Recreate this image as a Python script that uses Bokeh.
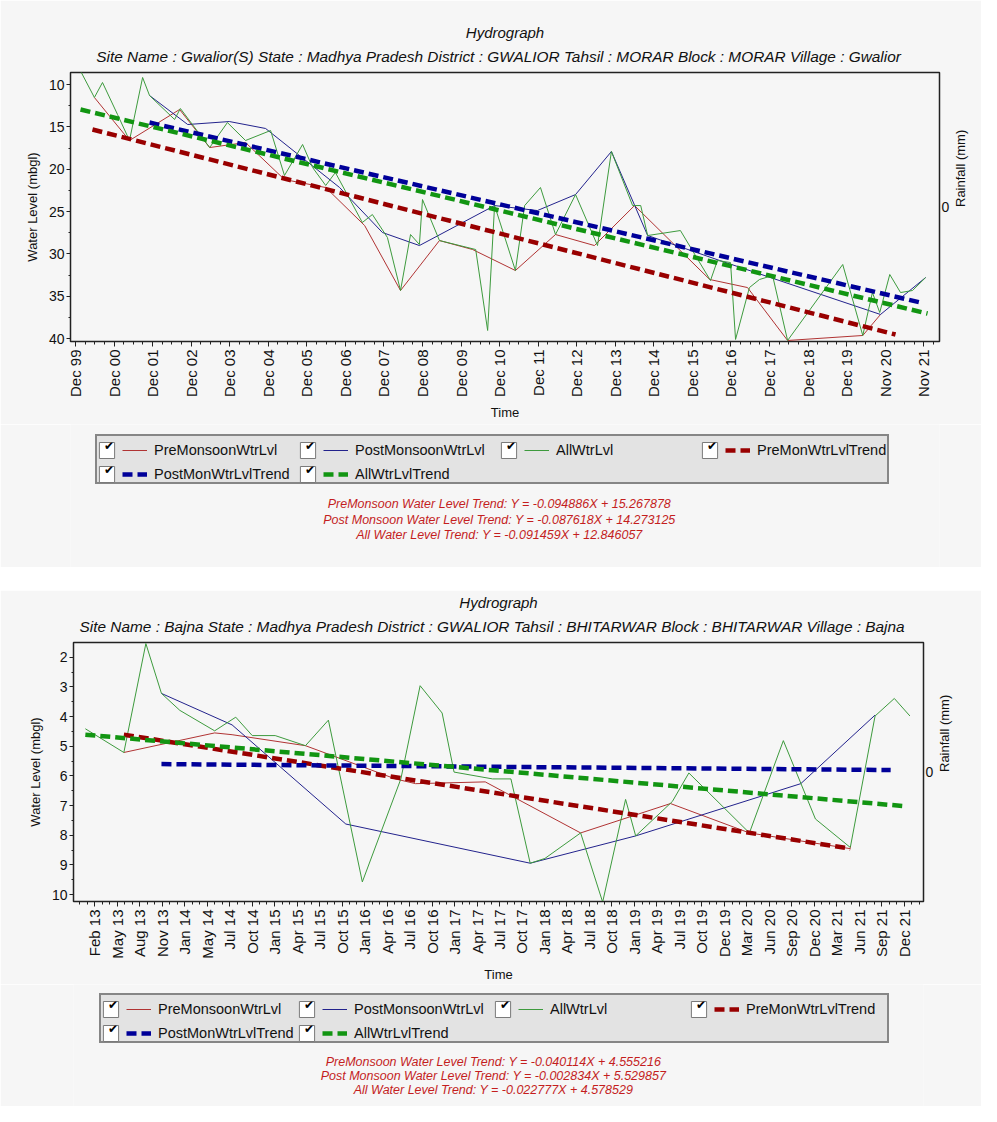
import math
from bokeh.plotting import figure
from bokeh.models import Range1d, LinearAxis, FixedTicker, Legend, LegendItem, Label, Title
from bokeh.layouts import column
from bokeh.embed import file_html
from bokeh.resources import INLINE

# ---------------------------------------------------------------- data
# Chart 1 : Gwalior(S)   (x = decimal year, y = water level in m bgl)
gw_subtitle = ("Site Name : Gwalior(S)  State : Madhya Pradesh District : GWALIOR  "
               "Tahsil : MORAR  Block : MORAR Village : Gwalior")
gw_tick_labels = ["Dec 99", "Dec 00", "Dec 01", "Dec 02", "Dec 03", "Dec 04", "Dec 05",
                  "Dec 06", "Dec 07", "Dec 08", "Dec 09", "Dec 10", "Dec 11", "Dec 12",
                  "Dec 13", "Dec 14", "Dec 15", "Dec 16", "Dec 17", "Dec 18", "Dec 19",
                  "Nov 20", "Nov 21"]
gw_pre_t = [2000.41, 2001.32, 2002.62, 2003.40, 2004.33, 2005.34, 2006.41, 2007.42, 2008.35,
            2009.36, 2010.22, 2011.33, 2012.37, 2013.38, 2014.42, 2016.37, 2017.35, 2018.39,
            2020.34, 2020.80]
gw_pre_v = [11.53, 16.61, 12.95, 17.44, 16.85, 21.22, 22.16, 26.65, 34.32,
            28.42, 29.48, 31.96, 27.71, 29.01, 24.29, 33.02, 33.97, 40.22,
            39.63, 37.15]
gw_post_t = [2001.84, 2002.83, 2003.91, 2004.85, 2006.77, 2007.88, 2008.84, 2010.79,
             2011.90, 2012.89, 2013.82, 2014.76, 2016.63, 2020.80, 2021.97]
gw_post_v = [11.30, 14.72, 14.37, 15.19, 22.16, 27.47, 29.01, 24.29,
             24.88, 22.99, 17.91, 27.83, 30.78, 37.15, 32.79]
gw_all_t = [2000.05, 2000.41, 2000.62, 2001.01, 2001.32, 2001.66, 2001.84, 2002.49, 2002.64,
            2003.40, 2003.86, 2004.33, 2004.98, 2005.34, 2005.81, 2006.07, 2006.41, 2006.66,
            2007.36, 2007.62, 2008.01, 2008.35, 2008.61, 2008.84, 2008.92, 2009.36, 2010.30,
            2010.61, 2010.79, 2011.33, 2011.57, 2011.98, 2012.37, 2012.89, 2013.46, 2013.82,
            2014.37, 2014.58, 2014.76, 2015.61, 2016.39, 2016.57, 2016.91, 2017.04, 2017.40,
            2017.66, 2018.00, 2018.39, 2019.82, 2020.34, 2020.59, 2020.78, 2021.04, 2021.32,
            2021.63, 2021.97]
gw_all_v = [8.40, 11.53, 9.76, 13.54, 16.61, 9.17, 11.30, 14.13, 12.83,
            17.44, 14.49, 16.61, 15.43, 20.74, 17.08, 19.80, 21.92, 20.39,
            26.29, 25.35, 28.06, 34.32, 27.71, 28.89, 23.58, 28.42, 29.48,
            39.04, 24.29, 31.96, 24.29, 22.16, 27.71, 22.99, 29.01, 17.91,
            24.29, 24.29, 27.83, 27.24, 33.14, 30.78, 31.02, 40.10, 33.97,
            33.02, 32.55, 40.22, 31.25, 39.63, 34.56, 36.92, 32.43, 34.56,
            34.32, 32.79]
gw_pre_trend_t = [2000.36, 2021.19]
gw_pre_trend_v = [15.31, 39.52]
gw_post_trend_t = [2001.84, 2021.84]
gw_post_trend_v = [14.49, 35.74]
gw_all_trend_t = [2000.05, 2022.02]
gw_all_trend_v = [12.95, 37.04]
gw_equations = ["PreMonsoon Water Level Trend: Y = -0.094886X + 15.267878",
                "Post Monsoon Water Level Trend: Y = -0.087618X + 14.273125",
                "All Water Level Trend: Y = -0.091459X + 12.846057"]

# Chart 2 : Bajna
bj_subtitle = ("Site Name : Bajna  State : Madhya Pradesh District : GWALIOR  "
               "Tahsil : BHITARWAR  Block : BHITARWAR Village : Bajna")
bj_tick_labels = ["Feb 13", "May 13", "Aug 13", "Nov 13", "Jan 14", "May 14", "Jul 14",
                  "Oct 14", "Jan 15", "Apr 15", "Jul 15", "Oct 15", "Jan 16", "Apr 16",
                  "Jul 16", "Oct 16", "Jan 17", "Apr 17", "Jul 17", "Oct 17", "Jan 18",
                  "Apr 18", "Jul 18", "Oct 18", "Jan 19", "Apr 19", "Jul 19", "Oct 19",
                  "Dec 19", "Mar 20", "Jun 20", "Sep 20", "Dec 20", "Mar 21", "Jun 21",
                  "Sep 21", "Dec 21"]
bj_pre_t = [2013.42, 2014.41, 2014.60, 2015.40, 2016.38, 2016.60, 2017.36, 2018.40,
            2019.38, 2020.24, 2021.34]
bj_pre_v = [5.21, 4.55, 4.61, 4.98, 6.10, 6.26, 6.20, 7.92, 6.93, 7.92, 8.45]
bj_post_t = [2013.83, 2014.60, 2015.84, 2017.85, 2019.00, 2020.80, 2021.61]
bj_post_v = [3.22, 4.28, 7.62, 8.94, 8.02, 6.26, 3.95]
bj_all_t = [2013.00, 2013.42, 2013.66, 2013.83, 2014.03, 2014.41, 2014.64, 2014.82,
            2015.07, 2015.40, 2015.65, 2016.02, 2016.44, 2016.65, 2016.89, 2017.02,
            2017.44, 2017.64, 2017.85, 2018.01, 2018.40, 2018.64, 2018.89, 2019.00,
            2019.40, 2019.58, 2020.24, 2020.61, 2020.96, 2021.34, 2021.61, 2021.82,
            2021.99]
bj_all_v = [4.41, 5.21, 1.54, 3.22, 3.79, 4.48, 4.02, 4.64,
            4.64, 4.98, 4.12, 9.57, 6.10, 2.96, 3.88, 5.87,
            6.10, 6.10, 8.94, 8.78, 7.92, 10.25, 6.79, 8.02,
            6.86, 5.90, 7.92, 4.81, 7.45, 8.41, 3.98, 3.39,
            3.98]
bj_pre_trend_t = [2013.42, 2021.34]
bj_pre_trend_v = [4.61, 8.45]
bj_post_trend_t = [2013.83, 2021.78]
bj_post_trend_v = [5.60, 5.80]
bj_all_trend_t = [2013.00, 2021.94]
bj_all_trend_v = [4.61, 7.02]
bj_equations = ["PreMonsoon Water Level Trend: Y = -0.040114X + 4.555216",
                "Post Monsoon Water Level Trend: Y = -0.002834X + 5.529857",
                "All Water Level Trend: Y = -0.022777X + 4.578529"]

legend_names = ["PreMonsoonWtrLvl", "PostMonsoonWtrLvl", "AllWtrLvl",
                "PreMonWtrLvlTrend", "PostMonWtrLvlTrend", "AllWtrLvlTrend"]

# ---------------------------------------------------------------- style
FONT = "Liberation Sans"
BG = "#f6f6f6"
STYLES = [
    dict(line_color="#b03333", line_width=1),
    dict(line_color="#22228c", line_width=1),
    dict(line_color="#3d9a3d", line_width=1),
    dict(line_color="#990000", line_width=4.5, line_dash="10 5"),
    dict(line_color="#000099", line_width=4.5, line_dash="10 5"),
    dict(line_color="#129512", line_width=4.5, line_dash="10 5"),
]
EQ_COLOR = "#c41e1e"
NAN = float("nan")


def make_plot(subtitle, tick_labels, tick0, tick_step, n_minor, series, lay):
    p = figure(width=lay["W"], height=lay["H"], title=None,
               x_range=Range1d(*lay["xr"]), y_range=Range1d(*lay["yr"]),
               output_backend="svg", toolbar_location=None,
               min_border_left=lay["L"], min_border_right=lay["R"],
               min_border_top=lay["T"], min_border_bottom=lay["B"],
               background_fill_color=BG, border_fill_color=BG,
               outline_line_color="#222222", outline_line_width=1.5)
    p.xgrid.visible = False
    p.ygrid.visible = False

    t_sub = Title(text=subtitle, align="center", offset=-5, standoff=12, vertical_align="top",
                  text_font=FONT, text_font_size="15.4px", text_font_style="italic",
                  text_color="#111111")
    p.add_layout(t_sub, "above")
    t_main = Title(text="Hydrograph", align="center", offset=-5, standoff=2,
                   text_font=FONT, text_font_size="15px", text_font_style="italic",
                   text_color="#111111")
    p.add_layout(t_main, "above")

    n = len(tick_labels)
    ticks = [round(tick0 + i * tick_step, 4) for i in range(n)]
    minors = []
    for i in range(-1, n + 1):
        for k in range(1, n_minor + 1):
            m = round(tick0 + (i + k / (n_minor + 1)) * tick_step, 4)
            if lay["xr"][0] < m < lay["xr"][1]:
                minors.append(m)
    xa = p.xaxis[0]
    xa.ticker = FixedTicker(ticks=ticks, minor_ticks=minors)
    xa.major_label_overrides = {t: lab for t, lab in zip(ticks, tick_labels)}
    xa.major_label_orientation = math.pi / 2
    xa.axis_label = "Time"

    ya = p.yaxis[0]
    ya.ticker = FixedTicker(ticks=lay["yticks"], minor_ticks=lay["yminor"])
    ya.axis_label = "Water Level (mbgl)"

    rain = LinearAxis(y_range_name="rain", ticker=FixedTicker(ticks=[0]),
                      axis_label="Rainfall (mm)")
    p.extra_y_ranges = {"rain": Range1d(-1, 1)}
    p.add_layout(rain, "right")
    rain.axis_label_orientation = math.pi / 2

    for ax in (xa, ya, rain):
        ax.axis_line_color = "#222222"
        ax.major_tick_line_color = "#222222"
        ax.minor_tick_line_color = "#222222"
        ax.major_label_text_font = FONT
        ax.major_label_text_font_size = "14px"
        ax.major_label_text_color = "#111111"
        ax.axis_label_text_font = FONT
        ax.axis_label_text_font_size = "13px"
        ax.axis_label_text_font_style = "normal"
        ax.axis_label_text_color = "#111111"
        ax.major_tick_in = 0
        ax.minor_tick_in = 0
    xa.major_label_text_font_size = "15px"
    xa.major_tick_out = 5
    xa.minor_tick_out = 3
    xa.major_label_standoff = 3
    xa.axis_label_standoff = 5
    ya.major_tick_out = 4
    ya.minor_tick_out = 2
    ya.major_label_standoff = 2
    ya.axis_label_standoff = 6
    rain.major_tick_out = 0
    rain.minor_tick_out = 0
    rain.major_label_standoff = 2
    rain.axis_label_standoff = 8

    for (xs, ys), st in zip(series, STYLES):
        p.line(xs, ys, **st)
    return p


def make_legend_panel(equations, lay):
    W, H = lay["W"], lay["LH"]
    fw = W - lay["L"] - lay["R"]
    q = figure(width=W, height=H, x_range=Range1d(0, fw), y_range=Range1d(0, H),
               x_axis_type=None, y_axis_type=None, title=None,
               output_backend="svg", toolbar_location=None,
               min_border_left=lay["L"], min_border_right=lay["R"],
               min_border_top=0, min_border_bottom=0,
               background_fill_color=BG, border_fill_color=BG, outline_line_color=None)
    q.xgrid.visible = False
    q.ygrid.visible = False

    # legend proxies (same styles as the plotted series, no visible data)
    proxies = [q.line([NAN], [NAN], **st) for st in STYLES]
    box = q.quad(left=[NAN], right=[NAN], top=[NAN], bottom=[NAN], fill_color="white",
                 line_color="#7a7a7a", line_width=1)
    blank = q.line([NAN], [NAN], line_alpha=0)

    item = lay["pitch"] - 4
    lx, ly = lay["leg_loc"]
    common = dict(glyph_height=20, label_height=20, spacing=4, padding=1, margin=0)
    grid = dict(orientation="horizontal", ncols=4, **common)
    # frame of the legend (background + border)
    leg_bg = Legend(items=[LegendItem(label=" ", renderers=[blank]) for _ in range(2)],
                    location=(lx, ly), orientation="vertical", glyph_width=1,
                    label_standoff=0, label_width=lay["box_w"] - 3,
                    label_text_font_size="10px",
                    background_fill_color="#e3e3e3", background_fill_alpha=1.0,
                    border_line_color="#2a2a2a", border_line_width=2, **common)
    # check boxes
    leg_box = Legend(items=[LegendItem(label=" ", renderers=[box]) for _ in legend_names],
                     location=(lx + 2, ly), glyph_width=19, label_standoff=0,
                     label_width=item - 19, label_text_font_size="10px",
                     background_fill_alpha=0.0, border_line_color=None, **grid)
    # check marks
    leg_chk = Legend(items=[LegendItem(label="\u2714", renderers=[blank]) for _ in legend_names],
                     location=(lx + 6, ly + 4), glyph_width=3, label_standoff=0,
                     label_width=item - 3, label_text_font="DejaVu Sans",
                     label_text_font_size="12px", label_text_font_style="bold",
                     label_text_color="#000000", background_fill_alpha=0.0,
                     border_line_color=None, **grid)
    # series entries
    leg = Legend(items=[LegendItem(label=nm, renderers=[r]) for nm, r in zip(legend_names, proxies)],
                 location=(lx + 27, ly), glyph_width=25, label_standoff=7,
                 label_width=item - 32, label_text_font=FONT, label_text_font_size="14.5px",
                 label_text_color="#111111", background_fill_alpha=0.0,
                 border_line_color=None, **grid)
    for lg in (leg_bg, leg_box, leg_chk, leg):
        q.add_layout(lg, "center")

    for txt, yy in zip(equations, lay["eq_y"]):
        q.add_layout(Label(x=lay["eq_x"], y=yy, text=txt,
                           text_align="center", text_baseline="middle",
                           text_font=FONT, text_font_size="12.5px", text_font_style="italic",
                           text_color=EQ_COLOR))
    return q


lay1 = dict(W=981, H=424, L=70, R=42, T=72, B=83, xr=(1999.79, 2022.33), yr=(40.34, 8.58),
            yticks=[10, 15, 20, 25, 30, 35, 40], yminor=[12.5, 17.5, 22.5, 27.5, 32.5, 37.5],
            LH=143, pitch=201, box_w=790, leg_loc=(25, 83), eq_x=429, eq_y=[64, 48, 33])
lay2 = dict(W=981, H=394, L=73, R=58, T=50, B=80, xr=(2012.871, 2022.138), yr=(10.23, 1.504),
            yticks=[2, 3, 4, 5, 6, 7, 8, 9, 10],
            yminor=[1.5, 2.5, 3.5, 4.5, 5.5, 6.5, 7.5, 8.5, 9.5],
            LH=122, pitch=196, box_w=786, leg_loc=(26, 63), eq_x=420, eq_y=[45, 31, 17])

gw_series = [(gw_pre_t, gw_pre_v), (gw_post_t, gw_post_v), (gw_all_t, gw_all_v),
             (gw_pre_trend_t, gw_pre_trend_v), (gw_post_trend_t, gw_post_trend_v),
             (gw_all_trend_t, gw_all_trend_v)]
bj_series = [(bj_pre_t, bj_pre_v), (bj_post_t, bj_post_v), (bj_all_t, bj_all_v),
             (bj_pre_trend_t, bj_pre_trend_v), (bj_post_trend_t, bj_post_trend_v),
             (bj_all_trend_t, bj_all_trend_v)]

p1 = make_plot(gw_subtitle, gw_tick_labels, 1999.92, 1.0, 3, gw_series, lay1)
q1 = make_legend_panel(gw_equations, lay1)
p2 = make_plot(bj_subtitle, bj_tick_labels, 2013.1, 0.2453, 2, bj_series, lay2)
q2 = make_legend_panel(bj_equations, lay2)

page = column(column(p1, q1, spacing=0), column(p2, q2, spacing=0), spacing=23)
open("out.html", "w").write(file_html(page, INLINE))
